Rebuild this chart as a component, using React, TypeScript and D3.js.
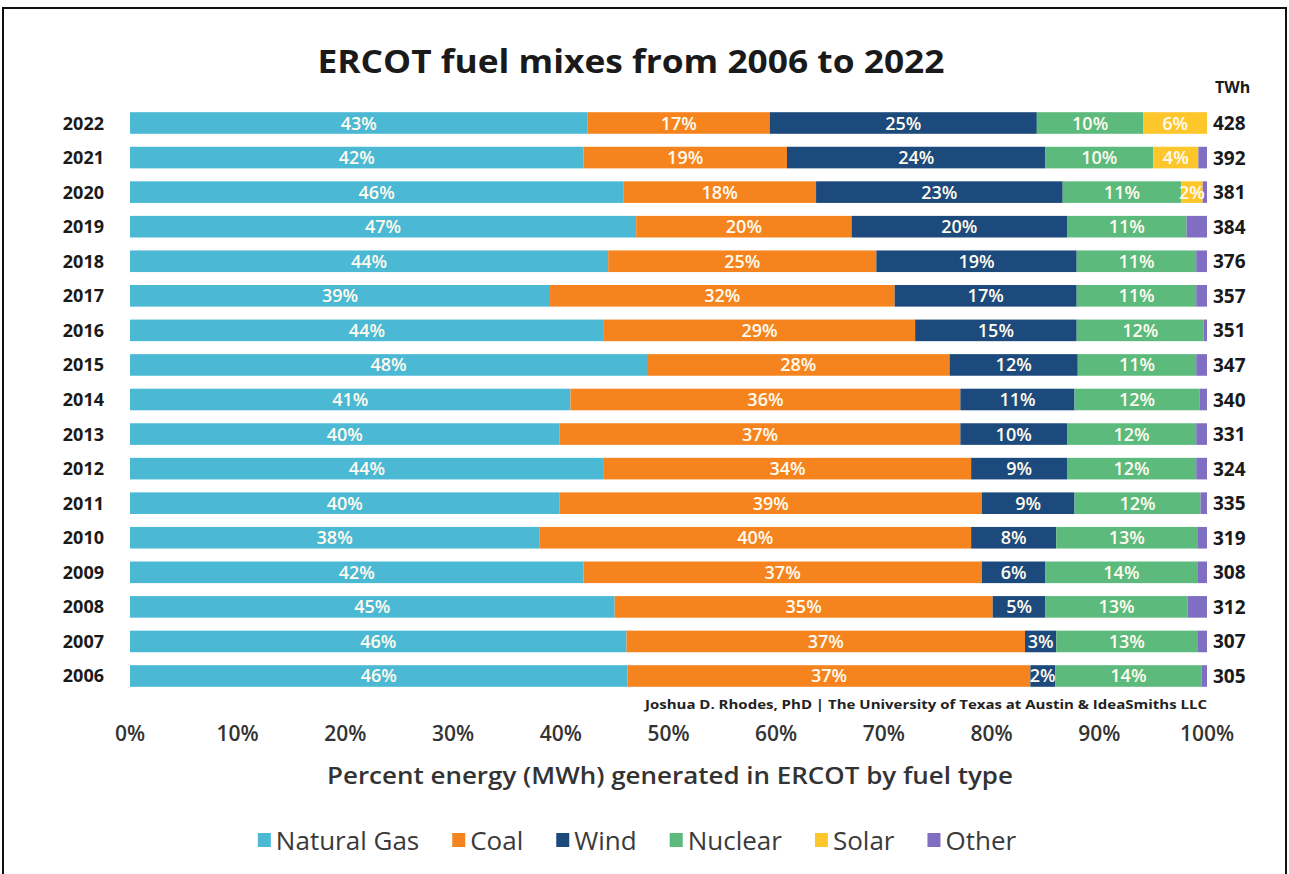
import React, { useEffect, useRef } from "react";
import * as d3 from "d3";

const years = [2022, 2021, 2020, 2019, 2018, 2017, 2016, 2015, 2014, 2013, 2012, 2011, 2010, 2009, 2008, 2007, 2006];
const naturalGas = [42.5, 42.1, 45.8, 47.0, 44.4, 39.0, 44.0, 48.0, 40.9, 39.9, 44.0, 39.9, 38.0, 42.1, 45.0, 46.1, 46.2];
const coal = [16.9, 18.9, 17.9, 20.0, 24.9, 32.0, 28.9, 28.1, 36.2, 37.2, 34.1, 39.2, 40.1, 37.0, 35.1, 37.0, 37.4];
const wind = [24.8, 24.0, 22.9, 20.0, 18.6, 16.9, 15.0, 11.9, 10.6, 9.9, 8.9, 8.6, 7.9, 5.9, 4.9, 2.9, 2.3];
const nuclear = [9.9, 10.0, 11.0, 11.1, 11.1, 11.1, 11.8, 11.0, 11.6, 12.0, 12.0, 11.7, 13.1, 14.1, 13.2, 13.1, 13.6];
const solar = [5.9, 4.2, 2.0, 0, 0, 0, 0, 0, 0, 0, 0, 0, 0, 0, 0, 0, 0];
const other = [0.0, 0.8, 0.4, 1.9, 1.0, 1.0, 0.3, 1.0, 0.7, 1.0, 1.0, 0.6, 0.9, 0.9, 1.8, 0.9, 0.5];
const twh = [428, 392, 381, 384, 376, 357, 351, 347, 340, 331, 324, 335, 319, 308, 312, 307, 305];
const xTicks = [0, 10, 20, 30, 40, 50, 60, 70, 80, 90, 100];

const seriesNames = ["Natural Gas", "Coal", "Wind", "Nuclear", "Solar", "Other"];
const seriesColors = ["#4bb9d4", "#f5841f", "#1d4a7c", "#5cba7d", "#fdc62a", "#7f6ec2"];
const seriesLabeled = [true, true, true, true, true, false];

const FONT = "'Open Sans', 'Noto Sans', sans-serif";

export default function App() {
  const ref = useRef<SVGSVGElement | null>(null);

  useEffect(() => {
    const svg = d3.select(ref.current);
    svg.selectAll("*").remove();

    const seriesValues = [naturalGas, coal, wind, nuclear, solar, other];
    const rows = years.map((y, i) => {
      const r: any = { year: y, twh: twh[i] };
      seriesNames.forEach((n, k) => (r[n] = seriesValues[k][i]));
      return r;
    });
    const stacked = d3.stack<any>().keys(seriesNames)(rows);

    const x = d3.scaleLinear().domain([0, 100]).range([130, 1207]);
    const y = d3
      .scaleBand<number>()
      .domain(years)
      .range([112.2, 686.8])
      .paddingInner(0.375)
      .paddingOuter(0);
    const bw = y.bandwidth();

    // frame
    svg
      .append("path")
      .attr("d", "M3,880 L3,8 L1286,8 L1286,880")
      .attr("fill", "none")
      .attr("stroke", "#111")
      .attr("stroke-width", 2);

    // title
    svg
      .append("text")
      .attr("x", 631)
      .attr("y", 73)
      .attr("text-anchor", "middle")
      .attr("font-family", FONT)
      .attr("font-weight", 700)
      .attr("font-size", 33)
      .attr("fill", "#1a1a1a")
      .attr("textLength", 627)
      .attr("lengthAdjust", "spacingAndGlyphs")
      .text("ERCOT fuel mixes from 2006 to 2022");

    // TWh header
    svg
      .append("text")
      .attr("x", 1215)
      .attr("y", 93)
      .attr("font-family", FONT)
      .attr("font-weight", 700)
      .attr("font-size", 16)
      .attr("fill", "#1a1a1a")
      .text("TWh");

    // bars
    const layers = svg
      .append("g")
      .selectAll("g")
      .data(stacked)
      .join("g")
      .attr("fill", (_d, i) => seriesColors[i]);

    layers
      .selectAll("rect")
      .data((d) => d.map((s) => ({ s, year: s.data.year })))
      .join("rect")
      .attr("x", (d) => x(d.s[0]))
      .attr("width", (d) => Math.max(0, x(d.s[1]) - x(d.s[0])))
      .attr("y", (d) => y(d.year) as number)
      .attr("height", bw);

    // segment labels
    stacked.forEach((layer, k) => {
      if (!seriesLabeled[k]) return;
      svg
        .append("g")
        .selectAll("text")
        .data(layer.filter((s) => s[1] - s[0] >= 1.5))
        .join("text")
        .attr("x", (s) => (x(s[0]) + x(s[1])) / 2)
        .attr("y", (s) => (y(s.data.year) as number) + bw / 2 + 6.5)
        .attr("text-anchor", "middle")
        .attr("font-family", FONT)
        .attr("font-weight", 600)
        .attr("font-size", 18)
        .attr("fill", "#fffbef")
        .text((s) => Math.round(s[1] - s[0]) + "%");
    });

    // year labels
    svg
      .append("g")
      .selectAll("text")
      .data(years)
      .join("text")
      .attr("x", 104)
      .attr("y", (d) => (y(d) as number) + bw / 2 + 6.5)
      .attr("text-anchor", "end")
      .attr("font-family", FONT)
      .attr("font-weight", 700)
      .attr("font-size", 18)
      .attr("fill", "#1a1a1a")
      .text((d) => String(d));

    // TWh values
    svg
      .append("g")
      .selectAll("text")
      .data(rows)
      .join("text")
      .attr("x", 1213)
      .attr("y", (d) => (y(d.year) as number) + bw / 2 + 7)
      .attr("font-family", FONT)
      .attr("font-weight", 700)
      .attr("font-size", 19)
      .attr("fill", "#1a1a1a")
      .text((d) => String(d.twh));

    // credit
    svg
      .append("text")
      .attr("x", 1207)
      .attr("y", 709)
      .attr("text-anchor", "end")
      .attr("font-family", FONT)
      .attr("font-weight", 700)
      .attr("font-size", 12)
      .attr("fill", "#222")
      .attr("textLength", 562)
      .attr("lengthAdjust", "spacingAndGlyphs")
      .text("Joshua D. Rhodes, PhD | The University of Texas at Austin & IdeaSmiths LLC");

    // x tick labels
    svg
      .append("g")
      .selectAll("text")
      .data(xTicks)
      .join("text")
      .attr("x", (d) => x(d))
      .attr("y", 741)
      .attr("text-anchor", "middle")
      .attr("font-family", FONT)
      .attr("font-weight", 600)
      .attr("font-size", 21)
      .attr("fill", "#333")
      .text((d) => d + "%");

    // axis title
    svg
      .append("text")
      .attr("x", 670)
      .attr("y", 784)
      .attr("text-anchor", "middle")
      .attr("font-family", FONT)
      .attr("font-weight", 600)
      .attr("font-size", 23)
      .attr("fill", "#333")
      .attr("textLength", 686)
      .attr("lengthAdjust", "spacingAndGlyphs")
      .text("Percent energy (MWh) generated in ERCOT by fuel type");

    // legend
    const lg = svg.append("g");
    const items = lg
      .selectAll("g")
      .data(seriesNames)
      .join("g");
    items
      .append("rect")
      .attr("width", 13)
      .attr("height", 14)
      .attr("y", 833)
      .attr("fill", (_d, i) => seriesColors[i]);
    const texts = items
      .append("text")
      .attr("y", 850)
      .attr("font-family", FONT)
      .attr("font-size", 26)
      .attr("fill", "#3a3a3a")
      .text((d) => d);
    const widths: number[] = [];
    texts.each(function () {
      widths.push((this as SVGTextElement).getComputedTextLength());
    });
    const gapSq = 5;
    const gapItem = 33;
    const total = widths.reduce((a, w) => a + 13 + gapSq + w, 0) + gapItem * (widths.length - 1);
    let cx = 637 - total / 2;
    items.each(function (_d, i) {
      const g = d3.select(this);
      g.select("rect").attr("x", cx);
      g.select("text").attr("x", cx + 13 + gapSq);
      cx += 13 + gapSq + widths[i] + gapItem;
    });
  }, []);

  return (
    <svg
      ref={ref}
      width={1289}
      height={874}
      style={{ position: "absolute", left: 0, top: 0, background: "#fff" }}
    />
  );
}
